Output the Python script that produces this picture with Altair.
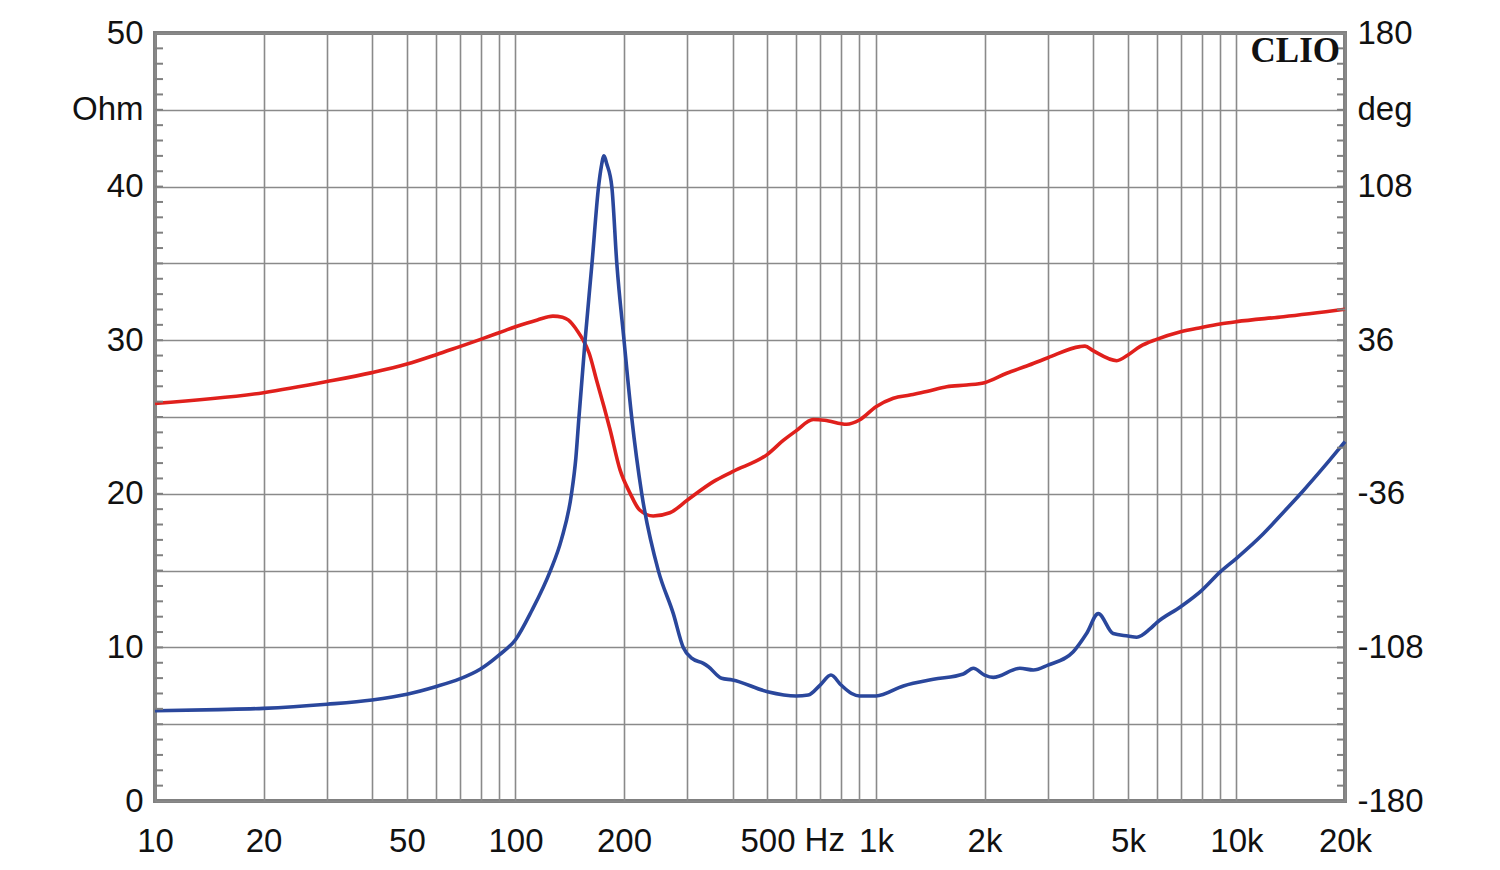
import altair as alt
import pandas as pd

# ---- data ----
imp_freq = [10, 15, 20, 30, 40, 50, 60, 70, 80, 90, 100, 111, 125, 134, 143, 147, 150, 156, 163, 170, 173,
            176, 179, 185, 191, 200, 210, 224, 249, 274, 292, 308, 332, 343, 373, 400, 500, 600, 649,
            700, 750, 800, 856, 900, 1000, 1191, 1443, 1747, 1862, 2000, 2115, 2507, 2732, 3000, 3526,
            3838, 4136, 4548, 5000, 5290, 5754, 6000, 7000, 8000, 9000, 10000, 11870, 13500, 15320,
            17410, 20000]
imp_ohm = [5.88, 5.95, 6.03, 6.3, 6.58, 6.95, 7.44, 7.95, 8.6, 9.5, 10.5, 12.4, 15.0, 17.0, 20.0, 22.3, 25.0,
           30.0, 35.0, 40.0, 41.3, 42.0, 41.5, 40.0, 35.0, 30.0, 25.0, 20.0, 15.0, 12.2, 10.0, 9.3, 8.96,
           8.74, 7.99, 7.88, 7.12, 6.84, 6.9, 7.55, 8.2, 7.55, 7.0, 6.84, 6.84, 7.49, 7.92, 8.27, 8.64,
           8.2, 8.05, 8.64, 8.53, 8.85, 9.72, 10.9, 12.2, 10.9, 10.74, 10.66, 11.2, 11.6, 12.65, 13.7,
           14.9, 15.8, 17.4, 18.8, 20.2, 21.7, 23.4]

ph_freq = [10, 20, 30, 40, 50, 60, 70, 80, 90, 100, 115, 127, 135, 140, 149, 154, 160, 168, 176, 183,
           195, 208, 221, 241, 268, 300, 354, 400, 500, 553, 600, 670, 720, 829, 900, 1000, 1117, 1242,
           1382, 1571, 1785, 2000, 2304, 2618, 3000, 3681, 3800, 4000, 4655, 5000, 5395, 6004, 7000,
           8000, 9000, 10000, 13500, 20000]
ph_deg = [6.4, 11.4, 16.6, 20.8, 24.8, 29.1, 33.0, 36.4, 39.5, 42.3, 45.5, 47.3, 46.8, 45.5, 40.0, 36.1,
          30.0, 17.0, 4.8, -6.0, -24.8, -35.8, -43.6, -46.4, -44.9, -38.9, -30.3, -25.6, -17.5, -11.0,
          -6.5, -1.2, -1.5, -3.4, -1.4, 4.8, 8.8, 10.3, 11.9, 14.2, 15.0, 16.1, 20.5, 23.9, 27.8, 33.0,
          33.2, 31.1, 26.4, 29.1, 33.0, 36.4, 40.0, 42.0, 43.6, 44.7, 47.0, 50.5]

x_grid = [10, 20, 30, 40, 50, 60, 70, 80, 90, 100, 200, 300, 400, 500, 600, 700, 800, 900,
          1000, 2000, 3000, 4000, 5000, 6000, 7000, 8000, 9000, 10000, 20000]
x_labeled = [10, 20, 50, 100, 200, 500, 1000, 2000, 5000, 10000, 20000]
y_left_values = [0, 5, 10, 15, 20, 25, 30, 35, 40, 45, 50]
y_right_values = [-180, -108, -36, 36, 108, 144, 180]
minor_ticks = list(range(1, 50))

W, H = 1190, 768
FONT = "Liberation Sans"
FS = 33
GRID = "#8a8a8a"
XPAD = 24

imp_df = pd.DataFrame({"f": imp_freq, "z": imp_ohm})
ph_df = pd.DataFrame({"f": ph_freq, "p": ph_deg})
tick_df = pd.DataFrame({"v": minor_ticks})

xscale = alt.Scale(type="log", domain=[10, 20000])
ohm_scale = alt.Scale(domain=[0, 50])
deg_scale = alt.Scale(domain=[-180, 180])

lab_list = "[" + ",".join(str(v) for v in x_labeled) + "]"
x_label_expr = (
    f"indexof({lab_list}, datum.value) < 0 ? '' : "
    "(datum.value >= 1000 ? (datum.value/1000) + 'k' : '' + datum.value)"
)

x_axis = alt.Axis(
    values=x_grid, labelExpr=x_label_expr, grid=True, ticks=False, tickSize=0,
    domain=False, labelFontSize=FS, labelFont=FONT, labelColor="#111111",
    labelPadding=XPAD, labelFlush=False, labelOverlap=False, labelBound=False, title=None,
    gridColor=GRID, gridWidth=1.6,
)

left_axis = alt.Axis(
    orient="left", values=y_left_values,
    labelExpr="datum.value == 45 ? 'Ohm' : (datum.value % 10 == 0 ? '' + datum.value : '')",
    grid=True, ticks=False, tickSize=0, domain=False, labelFontSize=FS, labelFont=FONT,
    labelColor="#111111", labelPadding=12, labelOverlap=False, title=None,
    gridColor=GRID, gridWidth=1.6,
)

right_axis = alt.Axis(
    orient="right", values=y_right_values,
    labelExpr="datum.value == 144 ? 'deg' : '' + datum.value",
    grid=False, ticks=False, tickSize=0, domain=False, labelFontSize=FS, labelFont=FONT,
    labelColor="#111111", labelPadding=12, labelOverlap=False, title=None,
)

phase = alt.Chart(ph_df).mark_line(color="#e0201c", strokeWidth=3.6, interpolate="monotone").encode(
    x=alt.X("f:Q", scale=xscale, axis=x_axis),
    y=alt.Y("p:Q", scale=deg_scale, axis=right_axis),
)

imped = alt.Chart(imp_df).mark_line(color="#2a479c", strokeWidth=3.6, interpolate="monotone").encode(
    x=alt.X("f:Q", scale=xscale, axis=x_axis),
    y=alt.Y("z:Q", scale=ohm_scale, axis=left_axis),
)

ticks_left = alt.Chart(tick_df).mark_rule(color="#808080", strokeWidth=2).encode(
    y=alt.Y("v:Q", scale=ohm_scale, axis=None),
    x=alt.value(0), x2=alt.value(8),
)
ticks_right = alt.Chart(tick_df).mark_rule(color="#808080", strokeWidth=2).encode(
    y=alt.Y("v:Q", scale=ohm_scale, axis=None),
    x=alt.value(W - 8), x2=alt.value(W),
)

clio = alt.Chart(pd.DataFrame({"t": ["CLIO"]})).mark_text(
    font="Liberation Serif", fontWeight="bold", fontSize=35, align="right",
    baseline="middle", color="#111111",
).encode(x=alt.value(W - 5), y=alt.value(18), text="t:N")

hz = alt.Chart(pd.DataFrame({"f": [721], "t": ["Hz"]})).mark_text(
    font=FONT, fontSize=FS, align="center", baseline="top", color="#111111",
).encode(
    x=alt.X("f:Q", scale=xscale, axis=x_axis),
    y=alt.value(H + XPAD),
    text="t:N",
)

chart = (
    alt.layer(phase, imped, ticks_left, ticks_right, clio, hz)
    .resolve_scale(y="independent")
    .properties(
        width=W, height=H,
        autosize=alt.AutoSizeParams(type="none"),
        padding={"left": 155, "top": 33, "right": 155, "bottom": 69},
        background="white",
    )
    .configure_view(stroke="#808080", strokeWidth=4)
)

chart.save("out.html", embed_options={"renderer": "svg", "actions": False})
